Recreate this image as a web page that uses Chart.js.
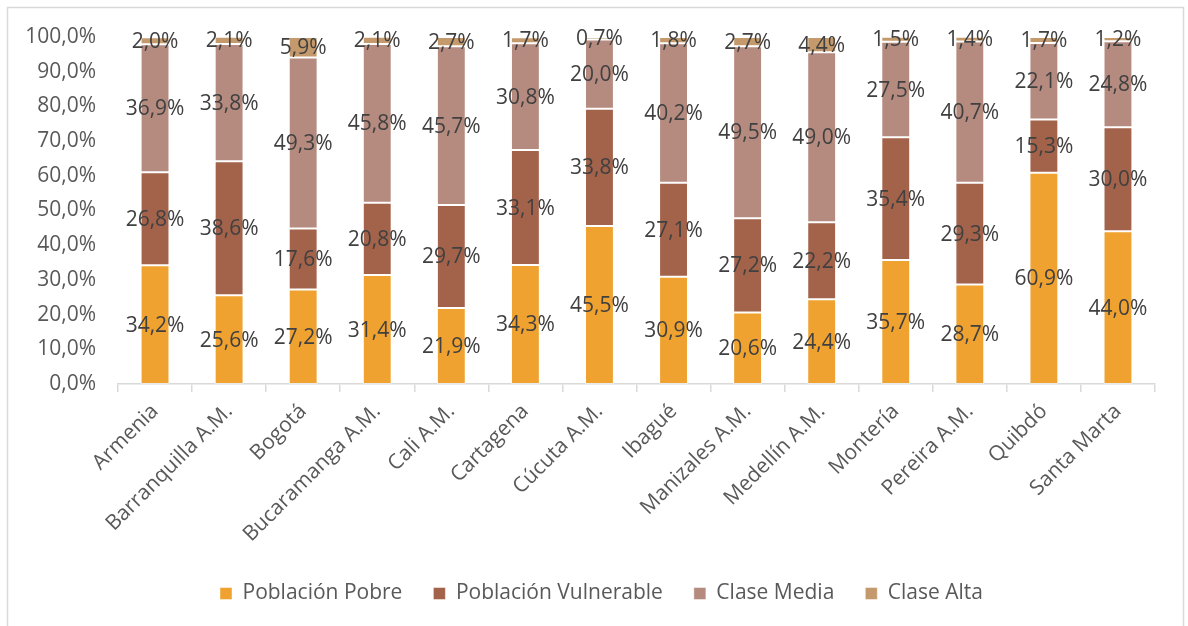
<!DOCTYPE html>
<html>
<head>
<meta charset="utf-8">
<script src="https://cdn.jsdelivr.net/npm/chart.js@4/dist/chart.umd.min.js"></script>
<style>
  html, body { margin: 0; padding: 0; background: #ffffff; }
  #wrap { width: 1188px; height: 626px; position: relative; }
</style>
</head>
<body>
<div id="wrap"><canvas id="c" width="1188" height="626"></canvas></div>
<script>
const categories = ["Armenia", "Barranquilla A.M.", "Bogotá", "Bucaramanga A.M.", "Cali A.M.", "Cartagena", "Cúcuta A.M.", "Ibagué", "Manizales A.M.", "Medellín A.M.", "Montería", "Pereira A.M.", "Quibdó", "Santa Marta"];
const pobre       = [34.2, 25.6, 27.2, 31.4, 21.9, 34.3, 45.5, 30.9, 20.6, 24.4, 35.7, 28.7, 60.9, 44.0];
const vulnerable  = [26.8, 38.6, 17.6, 20.8, 29.7, 33.1, 33.8, 27.1, 27.2, 22.2, 35.4, 29.3, 15.3, 30.0];
const media       = [36.9, 33.8, 49.3, 45.8, 45.7, 30.8, 20.0, 40.2, 49.5, 49.0, 27.5, 40.7, 22.1, 24.8];
const alta        = [2.0, 2.1, 5.9, 2.1, 2.7, 1.7, 0.7, 1.8, 2.7, 4.4, 1.5, 1.4, 1.7, 1.2];
const seriesNames = ["Población Pobre", "Población Vulnerable", "Clase Media", "Clase Alta"];
const seriesColors = ["#EFA22F", "#A3624A", "#B58A7F", "#C49A6C"];
const yTickValues = [0, 10, 20, 30, 40, 50, 60, 70, 80, 90, 100];

const FONT = "'Open Sans', 'Noto Sans', sans-serif";
const FS = 21;
const fmt = v => v.toFixed(1).replace('.', ',') + '%';

const frame = {
  id: 'frame',
  beforeDraw(chart) {
    const ctx = chart.ctx;
    ctx.save();
    ctx.fillStyle = '#ffffff';
    ctx.fillRect(0, 0, chart.width, chart.height);
    ctx.strokeStyle = '#D9D9D9';
    ctx.lineWidth = 1.5;
    ctx.strokeRect(7.5, 7.5, 1176, 640);
    ctx.restore();
  }
};

const legendShift = {
  id: 'legendShift',
  afterLayout(chart) {
    const lg = chart.legend;
    if (lg) { lg.left += 24; lg.right += 24; }
  }
};

const dataLabels = {
  id: 'dataLabels',
  afterDatasetsDraw(chart) {
    const ctx = chart.ctx;
    ctx.save();
    ctx.font = FS + "px " + FONT;
    ctx.fillStyle = '#404040';
    ctx.textAlign = 'center';
    ctx.textBaseline = 'middle';
    chart.data.datasets.forEach((ds, di) => {
      const meta = chart.getDatasetMeta(di);
      meta.data.forEach((el, i) => {
        const p = el.getProps(['x', 'y', 'base'], true);
        ctx.fillText(fmt(ds.data[i]), p.x, (p.y + p.base) / 2 + 1);
      });
    });
    ctx.restore();
  }
};

const seriesData = [pobre, vulnerable, media, alta];

new Chart(document.getElementById('c'), {
  type: 'bar',
  data: {
    labels: categories,
    datasets: seriesNames.map((n, k) => ({
      label: n,
      data: seriesData[k],
      backgroundColor: seriesColors[k],
      borderColor: 'rgba(255,255,255,0.45)',
      borderWidth: 1,
      borderSkipped: false,
      barPercentage: 0.39,
      categoryPercentage: 1.0
    }))
  },
  options: {
    responsive: false,
    animation: false,
    devicePixelRatio: 1,
    layout: { padding: { top: 37, right: 33, left: 0, bottom: 12 } },
    plugins: {
      tooltip: { enabled: false },
      legend: {
        position: 'bottom',
        labels: {
          font: { family: FONT, size: FS },
          color: '#595959',
          boxWidth: 12,
          boxHeight: 12,
          padding: 31
        }
      }
    },
    scales: {
      x: {
        stacked: true,
        grid: { display: true, offset: true, drawOnChartArea: false, drawTicks: true, tickLength: 8, color: '#D9D9D9', lineWidth: 1.5 },
        border: { display: true, color: '#D9D9D9', width: 1.5 },
        ticks: {
          font: { family: FONT, size: FS },
          color: '#595959',
          maxRotation: 45,
          minRotation: 45,
          autoSkip: false,
          padding: 7
        },
        afterFit(scale) { scale.height = 168; }
      },
      y: {
        stacked: true,
        min: 0,
        max: 100,
        grid: { display: false, drawTicks: false },
        border: { display: false },
        afterBuildTicks(scale) { scale.ticks = yTickValues.map(v => ({ value: v })); },
        ticks: {
          font: { family: FONT, size: FS },
          color: '#595959',
          padding: 22,
          callback: v => fmt(v)
        },
        afterFit(scale) { scale.width = 118; }
      }
    }
  },
  plugins: [frame, legendShift, dataLabels]
});
</script>
</body>
</html>
